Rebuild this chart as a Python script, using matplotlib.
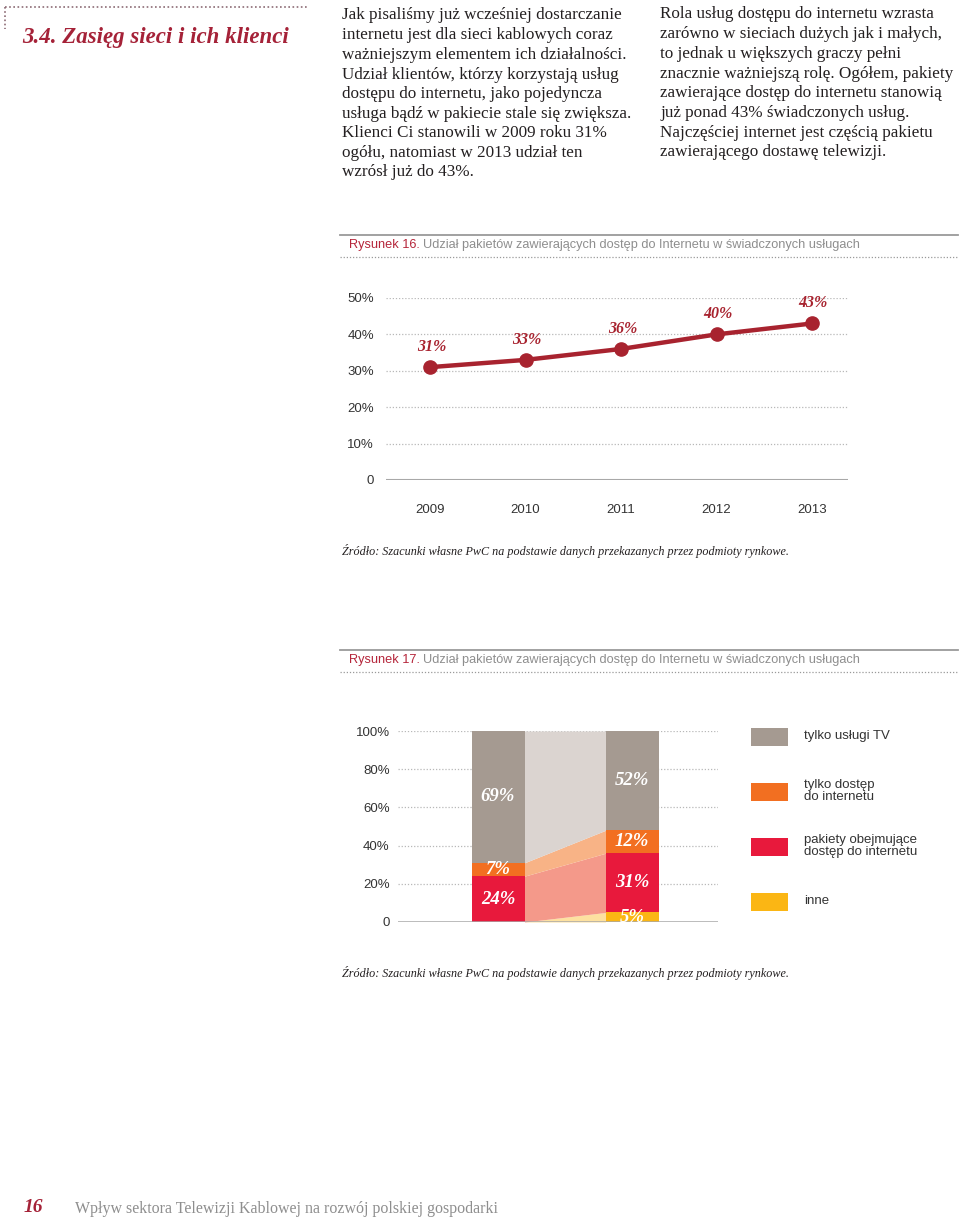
import matplotlib
matplotlib.use("Agg")
import matplotlib.pyplot as plt
from matplotlib.patches import Rectangle
from matplotlib.lines import Line2D

# ---------------- data ----------------
years = ["2009", "2010", "2011", "2012", "2013"]
internet_share = [31, 33, 36, 40, 43]
line_ticks = [0, 10, 20, 30, 40, 50]
line_ticklabels = ["0", "10%", "20%", "30%", "40%", "50%"]

bar_segments = ["inne", "pakiety obejmujące\ndostęp do internetu", "tylko dostęp\ndo internetu", "tylko usługi TV"]
bar_first = [0, 24, 7, 69]
bar_last = [5, 31, 12, 52]
bar_ticks = [0, 20, 40, 60, 80, 100]
bar_ticklabels = ["0", "20%", "40%", "60%", "80%", "100%"]

left_col = [
    "Jak pisaliśmy już wcześniej dostarczanie",
    "internetu jest dla sieci kablowych coraz",
    "ważniejszym elementem ich działalności.",
    "Udział klientów, którzy korzystają usług",
    "dostępu do internetu, jako pojedyncza",
    "usługa bądź w pakiecie stale się zwiększa.",
    "Klienci Ci stanowili w 2009 roku 31%",
    "ogółu, natomiast w 2013 udział ten",
    "wzrósł już do 43%.",
]
right_col = [
    "Rola usług dostępu do internetu wzrasta",
    "zarówno w sieciach dużych jak i małych,",
    "to jednak u większych graczy pełni",
    "znacznie ważniejszą rolę. Ogółem, pakiety",
    "zawierające dostęp do internetu stanowią",
    "już ponad 43% świadczonych usług.",
    "Najczęściej internet jest częścią pakietu",
    "zawierającego dostawę telewizji.",
]

# ---------------- styles ----------------
W, H = 960, 1224
RED = "#a52238"
LINE_RED = "#a8232f"
GRAY_TXT = "#8e8e8e"
BODY = "#231f20"
SERIF = "Liberation Serif"
SANS = "Liberation Sans"
seg_colors = ["#fbb614", "#e8193c", "#f26f21", "#a59a91"]
band_colors = ["#fde1a0", "#f4998a", "#f8b386", "#dbd4d0"]

fig = plt.figure(figsize=(W / 100, H / 100), dpi=100)
fig.patch.set_facecolor("white")


def fx(x):
    return x / W


def fy(y):
    return 1 - y / H


def ftext(x, y, s, **kw):
    kw.setdefault("va", "center")
    fig.text(fx(x), fy(y), s, **kw)


def hline(x0, x1, y, **kw):
    fig.add_artist(Line2D([fx(x0), fx(x1)], [fy(y), fy(y)], transform=fig.transFigure, **kw))


def add_axes_px(x0, y0, x1, y1):
    return fig.add_axes([fx(x0), fy(y1), fx(x1) - fx(x0), (y1 - y0) / H])


# ---------------- top heading + frame ----------------
hline(5, 308, 7, color="#8c6b74", lw=1.2, ls=(0, (1, 1.5)))
fig.add_artist(Line2D([fx(5), fx(5)], [fy(7), fy(29)], transform=fig.transFigure,
                      color="#8c6b74", lw=1.2, ls=(0, (1, 1.5))))
ftext(22, 38, "3.4. Zasięg sieci i ich klienci", family=SERIF, weight="bold",
      style="italic", size=16.5, color=RED)

ly = [15, 35, 55, 75, 94, 114, 133, 153, 172]
for s, y in zip(left_col, ly):
    ftext(342, y, s, family=SERIF, size=12.3, color=BODY)
ry = [14, 34, 54, 74, 93, 113, 133, 152]
for s, y in zip(right_col, ry):
    ftext(660, y, s, family=SERIF, size=12.3, color=BODY)


def fig_title(ytop, num):
    hline(340, 958, ytop, color="#9a9a9a", lw=1.3)
    t = fig.text(fx(349), fy(ytop + 10), f"Rysunek {num}.", family=SANS, size=9.2,
                 color="#b5253a", va="center")
    fig.canvas.draw()
    bb = t.get_window_extent()
    fig.text(bb.x1 / W + 3 / W, fy(ytop + 10),
             "Udział pakietów zawierających dostęp do Internetu w świadczonych usługach",
             family=SANS, size=9.2, color=GRAY_TXT, va="center")
    hline(340, 958, ytop + 22, color="#9a9a9a", lw=0.9, ls=(0, (1, 1.5)))


# ---------------- Figure 16: line chart ----------------
fig_title(235, 16)
ax1 = add_axes_px(386, 298, 848, 480)
xs = list(range(len(years)))
ax1.set_xlim(-44 / 95.5, 4 + 36 / 95.5)
ax1.set_ylim(0, 50)
for t in line_ticks[1:]:
    ax1.axhline(t, color="#b8b8b8", lw=0.9, ls=(0, (1, 1.5)), zorder=1)
ax1.axhline(0, color="#a8a8a8", lw=1.5, zorder=1)
ax1.plot(xs, internet_share, color=LINE_RED, lw=3.2, marker="o", ms=9.5,
         mfc=LINE_RED, mec=LINE_RED, zorder=3, clip_on=False)
for x, v in zip(xs, internet_share):
    ax1.annotate(f"{v}%", (x, v), xytext=(1, 14.5), textcoords="offset points",
                 ha="center", va="center", family=SERIF, weight="bold",
                 style="italic", size=11.5, color=LINE_RED, annotation_clip=False)
ax1.set_yticks(line_ticks)
ax1.set_yticklabels(line_ticklabels, family=SANS, size=9.5, color="#333333")
ax1.set_xticks(xs)
ax1.set_xticklabels(years, family=SANS, size=9.5, color="#333333")
ax1.tick_params(axis="y", length=0, pad=8.5)
ax1.tick_params(axis="x", length=0, pad=17)
for sp in ax1.spines.values():
    sp.set_visible(False)
ax1.patch.set_alpha(0)

ftext(342, 551, "Źródło: Szacunki własne PwC na podstawie danych przekazanych przez podmioty rynkowe.",
      family=SERIF, style="italic", size=8.7, color=BODY)

# ---------------- Figure 17: stacked bars with bands ----------------
fig_title(650, 17)
ax2 = add_axes_px(398, 731, 718, 922)
bw = 53 / 134
ax2.set_xlim(-100 / 134, 1 + 86 / 134)
ax2.set_ylim(0, 100)
for t in bar_ticks[1:]:
    ax2.axhline(t, color="#b8b8b8", lw=0.9, ls=(0, (1, 1.5)), zorder=0)
ax2.axhline(0, color="#a8a8a8", lw=1.8, zorder=4)

b0 = 0.0
b1 = 0.0
for i in range(len(bar_segments)):
    v0, v1 = bar_first[i], bar_last[i]
    ax2.fill_between([bw / 2, 1 - bw / 2], [b0, b1], [b0 + v0, b1 + v1],
                     color=band_colors[i], lw=0, zorder=1)
    if v0 > 0:
        ax2.bar(0, v0, bw, bottom=b0, color=seg_colors[i], lw=0, zorder=2)
        ax2.text(0, b0 + v0 / 2, f"{v0}%", ha="center", va="center", family=SERIF,
                 weight="bold", style="italic", size=13.5, color="white", zorder=5)
    if v1 > 0:
        ax2.bar(1, v1, bw, bottom=b1, color=seg_colors[i], lw=0, zorder=2)
        ax2.text(1, b1 + v1 / 2, f"{v1}%", ha="center", va="center", family=SERIF,
                 weight="bold", style="italic", size=13.5, color="white", zorder=5)
    b0 += v0
    b1 += v1

ax2.set_yticks(bar_ticks)
ax2.set_yticklabels(bar_ticklabels, family=SANS, size=9.5, color="#333333")
ax2.set_xticks([])
ax2.tick_params(axis="y", length=0, pad=6)
for sp in ax2.spines.values():
    sp.set_visible(False)
ax2.patch.set_alpha(0)

# legend (top to bottom: TV, dostęp, pakiety, inne)
leg_y = [737, 792, 847, 902]
for (lab, col), y in zip(list(zip(bar_segments, seg_colors))[::-1], leg_y):
    fig.add_artist(Rectangle((fx(751), fy(y + 9)), 37 / W, 18 / H,
                             transform=fig.transFigure, color=col, lw=0))
    ftext(804, y - 1, lab, family=SANS, size=9.5, color="#333333", linespacing=1.0)

ftext(342, 973, "Źródło: Szacunki własne PwC na podstawie danych przekazanych przez podmioty rynkowe.",
      family=SERIF, style="italic", size=8.7, color=BODY)

# ---------------- footer ----------------
ftext(24, 1208, "16", family=SERIF, weight="bold", style="italic", size=14, color=RED)
ftext(75, 1209, "Wpływ sektora Telewizji Kablowej na rozwój polskiej gospodarki",
      family=SERIF, size=11.5, color=GRAY_TXT)

fig.savefig("out.png", dpi=100, facecolor="white")
